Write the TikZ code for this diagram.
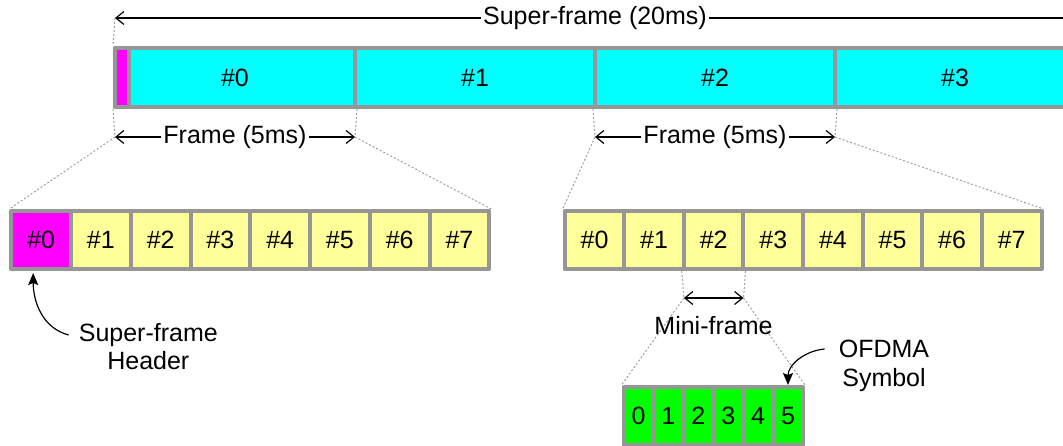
\documentclass[tikz,border=0pt]{standalone}
\usepackage{fontspec}
\setmainfont{Liberation Sans}
\usepackage{tikz}
\usetikzlibrary{arrows.meta}
\tikzset{>={Straight Barb[length=8pt,width=13pt]}}
\definecolor{rim}{RGB}{150,150,150}
\definecolor{frameblue}{RGB}{0,255,255}
\definecolor{hdrpink}{RGB}{255,0,255}
\definecolor{slotyellow}{RGB}{255,255,153}
\definecolor{symgreen}{RGB}{0,255,0}
\definecolor{guidegray}{RGB}{160,160,160}
\tikzstyle{cell} = [rectangle, draw=rim, line width=4pt, line join=round,
    inner sep=0pt, font=\fontsize{25}{28.7}\selectfont]
\tikzstyle{framecell} = [cell, fill=frameblue, minimum width=240pt, minimum height=59pt]
\tikzstyle{hdrcell} = [cell, fill=hdrpink, minimum width=13.7pt, minimum height=59pt]
\tikzstyle{slotcell} = [cell, fill=slotyellow, minimum width=59.7pt, minimum height=58pt]
\tikzstyle{symcell} = [cell, fill=symgreen, minimum width=29.9pt, minimum height=58pt]
\tikzstyle{txt} = [inner sep=0pt, align=center, font=\fontsize{25}{28.7}\selectfont]
\tikzstyle{guide} = [draw=guidegray, line width=1pt, dash pattern=on 2pt off 2pt]
\tikzstyle{dimline} = [<->, line width=1.2pt]
\tikzstyle{callout} = [-{Stealth[length=12pt,width=10pt,inset=2pt]}, line width=1.2pt]

\begin{document}
\begin{tikzpicture}
\begin{scope}[x=1pt,y=-1pt]
    \useasboundingbox (0,0) rectangle (1063,446);
    %super-frame
    \node[framecell] (f0) at (235,77.5) {\#0};
    \node[framecell] (f1) at (475,77.5) {\#1};
    \node[framecell] (f2) at (715,77.5) {\#2};
    \node[framecell] (f3) at (955,77.5) {\#3};
    \node[hdrcell] (h) at (121.85,77.5) {};
    %mini-frames of frame #0
    \node[slotcell, fill=hdrpink] (l0) at (41.2,240) {\#0};
    \node[slotcell] (l1) at (100.9,240) {\#1};
    \node[slotcell] (l2) at (160.7,240) {\#2};
    \node[slotcell] (l3) at (220.4,240) {\#3};
    \node[slotcell] (l4) at (280.2,240) {\#4};
    \node[slotcell] (l5) at (339.9,240) {\#5};
    \node[slotcell] (l6) at (399.7,240) {\#6};
    \node[slotcell] (l7) at (459.4,240) {\#7};
    %mini-frames of frame #2
    \node[slotcell] (r0) at (594.5,240) {\#0};
    \node[slotcell] (r1) at (654.1,240) {\#1};
    \node[slotcell] (r2) at (713.7,240) {\#2};
    \node[slotcell] (r3) at (773.3,240) {\#3};
    \node[slotcell] (r4) at (832.9,240) {\#4};
    \node[slotcell] (r5) at (892.5,240) {\#5};
    \node[slotcell] (r6) at (952.1,240) {\#6};
    \node[slotcell] (r7) at (1011.7,240) {\#7};
    %OFDMA symbols
    \node[symcell] (s0) at (638.5,416) {0};
    \node[symcell] (s1) at (668.4,416) {1};
    \node[symcell] (s2) at (698.3,416) {2};
    \node[symcell] (s3) at (728.2,416) {3};
    \node[symcell] (s4) at (758.1,416) {4};
    \node[symcell] (s5) at (788.0,416) {5};
    %arrow ends
    \coordinate (sfL) at (115,18);
    \coordinate (sfR) at (1075,18);
    \coordinate (fa0) at (115,137);
    \coordinate (fa1) at (355,137);
    \coordinate (fb0) at (595,137);
    \coordinate (fb1) at (835,137);
    \coordinate (ma0) at (683.9,298);
    \coordinate (ma1) at (743.5,298);
    %guides
    \draw[guide] (sfL) -- (f0.north west);
    \draw[guide] (f0.south west) -- (fa0);
    \draw[guide] (f0.south east) -- (fa1);
    \draw[guide] (f2.south west) -- (fb0);
    \draw[guide] (f2.south east) -- (fb1);
    \draw[guide] (fa0) -- (l0.north west);
    \draw[guide] (fa1) -- (l7.north east);
    \draw[guide] (fb0) -- (r0.north west);
    \draw[guide] (fb1) -- (r7.north east);
    \draw[guide] (r2.south west) -- (ma0);
    \draw[guide] (r2.south east) -- (ma1);
    \draw[guide] (ma0) -- (s0.north west);
    \draw[guide] (ma1) -- (s5.north east);
    %dimensions
    \draw[dimline] (sfL) -- node[txt, fill=white, inner sep=2pt] {Super-frame (20ms)} (sfR);
    \draw[dimline] (fa0) -- node[txt, fill=white, inner sep=2pt] {Frame (5ms)} (fa1);
    \draw[dimline] (fb0) -- node[txt, fill=white, inner sep=2pt] {Frame (5ms)} (fb1);
    \draw[dimline] (ma0) -- (ma1);
    %labels
    \node[txt] (mini) at (713.5,326) {Mini-frame};
    \node[txt] (hdr) at (148.3,346.5) {Super-frame\\Header};
    \node[txt] (sym) at (884,366) {OFDMA\\Symbol};
    \draw[callout] ([shift={(-10pt,11.5pt)}]hdr.west) to[out=165,in=-90] ([xshift=-8pt,yshift=-2pt]l0.south);
    \draw[callout] ([shift={(-14pt,17pt)}]sym.west) to[out=185,in=90] (s5.north);
\end{scope}
\end{tikzpicture}
\end{document}
